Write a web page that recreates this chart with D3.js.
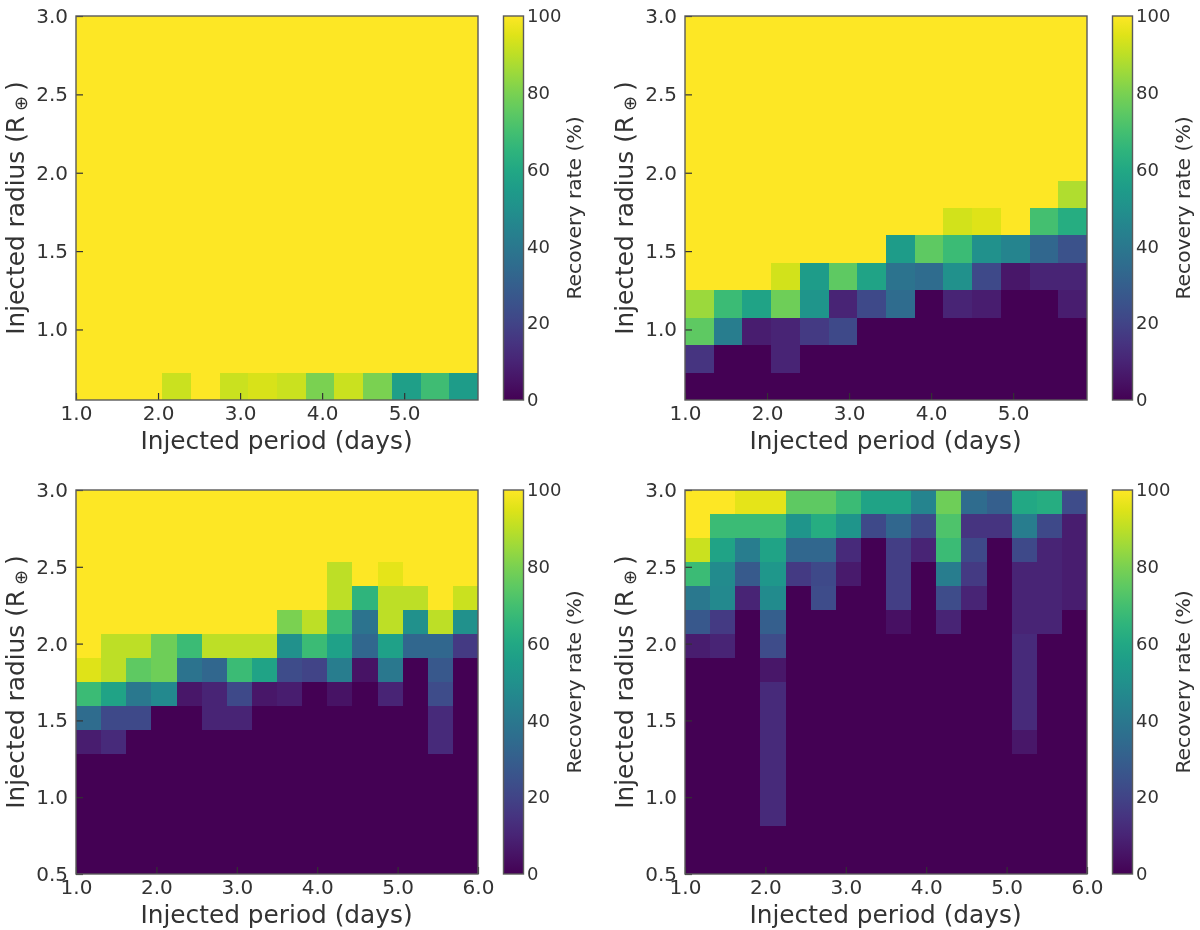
<!DOCTYPE html>
<html>
<head>
<meta charset="utf-8">
<script src="https://cdn.jsdelivr.net/npm/d3@7"></script>
<style>
html,body{margin:0;padding:0;background:#fff}
svg{display:block;font-family:"DejaVu Sans",sans-serif;filter:blur(0.4px)}
</style>
</head>
<body>
<svg id="chart" width="1200" height="930"></svg>
<script>
// Tick labels
const periodTicksShort = [1, 2, 3, 4, 5];
const periodTicksLong = [1, 2, 3, 4, 5, 6];
const radiusTicksShort = [1, 1.5, 2, 2.5, 3];
const radiusTicksLong = [0.5, 1, 1.5, 2, 2.5, 3];
const colorTicks = [0, 20, 40, 60, 80, 100];
const xTitle = "Injected period (days)";
const colorTitle = "Recovery rate (%)";

// Recovery rate (%), first row is the lowest radius
const recoveryTopLeft = [
 [100,100,100,92,100,92,94,92,80,92,80,56,69,55],
 [100,100,100,100,100,100,100,100,100,100,100,100,100,100],
 [100,100,100,100,100,100,100,100,100,100,100,100,100,100],
 [100,100,100,100,100,100,100,100,100,100,100,100,100,100],
 [100,100,100,100,100,100,100,100,100,100,100,100,100,100],
 [100,100,100,100,100,100,100,100,100,100,100,100,100,100],
 [100,100,100,100,100,100,100,100,100,100,100,100,100,100],
 [100,100,100,100,100,100,100,100,100,100,100,100,100,100],
 [100,100,100,100,100,100,100,100,100,100,100,100,100,100],
 [100,100,100,100,100,100,100,100,100,100,100,100,100,100],
 [100,100,100,100,100,100,100,100,100,100,100,100,100,100],
 [100,100,100,100,100,100,100,100,100,100,100,100,100,100],
 [100,100,100,100,100,100,100,100,100,100,100,100,100,100],
 [100,100,100,100,100,100,100,100,100,100,100,100,100,100]
];
const recoveryTopRight = [
 [0,0,0,0,0,0,0,0,0,0,0,0,0,0],
 [15,0,0,10,0,0,0,0,0,0,0,0,0,0],
 [75,42,8,10,17,22,0,0,0,0,0,0,0,0],
 [85,68,58,78,52,10,22,35,0,10,8,0,0,8],
 [100,100,100,93,55,75,58,38,35,50,22,6,10,10],
 [100,100,100,100,100,100,100,55,75,68,50,45,33,25],
 [100,100,100,100,100,100,100,100,100,93,95,100,70,62],
 [100,100,100,100,100,100,100,100,100,100,100,100,100,88],
 [100,100,100,100,100,100,100,100,100,100,100,100,100,100],
 [100,100,100,100,100,100,100,100,100,100,100,100,100,100],
 [100,100,100,100,100,100,100,100,100,100,100,100,100,100],
 [100,100,100,100,100,100,100,100,100,100,100,100,100,100],
 [100,100,100,100,100,100,100,100,100,100,100,100,100,100],
 [100,100,100,100,100,100,100,100,100,100,100,100,100,100]
];
const recoveryBottomLeft = [
 [0,0,0,0,0,0,0,0,0,0,0,0,0,0,0,0],
 [0,0,0,0,0,0,0,0,0,0,0,0,0,0,0,0],
 [0,0,0,0,0,0,0,0,0,0,0,0,0,0,0,0],
 [0,0,0,0,0,0,0,0,0,0,0,0,0,0,0,0],
 [0,0,0,0,0,0,0,0,0,0,0,0,0,0,0,0],
 [8,12,0,0,0,0,0,0,0,0,0,0,0,0,12,0],
 [35,22,22,0,0,10,10,0,0,0,0,0,0,0,12,0],
 [68,58,40,47,6,10,22,6,8,0,5,0,10,0,23,0],
 [95,90,75,78,38,33,68,58,23,20,42,5,40,0,27,0],
 [100,90,90,78,68,90,90,90,50,68,57,33,57,33,33,17],
 [100,100,100,100,100,100,100,100,80,90,68,38,90,50,90,50],
 [100,100,100,100,100,100,100,100,100,100,90,65,90,90,100,92],
 [100,100,100,100,100,100,100,100,100,100,90,100,96,100,100,100],
 [100,100,100,100,100,100,100,100,100,100,100,100,100,100,100,100],
 [100,100,100,100,100,100,100,100,100,100,100,100,100,100,100,100],
 [100,100,100,100,100,100,100,100,100,100,100,100,100,100,100,100]
];
const recoveryBottomRight = [
 [0,0,0,0,0,0,0,0,0,0,0,0,0,0,0,0],
 [0,0,0,0,0,0,0,0,0,0,0,0,0,0,0,0],
 [0,0,0,12,0,0,0,0,0,0,0,0,0,0,0,0],
 [0,0,0,12,0,0,0,0,0,0,0,0,0,0,0,0],
 [0,0,0,12,0,0,0,0,0,0,0,0,0,0,0,0],
 [0,0,0,12,0,0,0,0,0,0,0,0,0,6,0,0],
 [0,0,0,12,0,0,0,0,0,0,0,0,0,12,0,0],
 [0,0,0,12,0,0,0,0,0,0,0,0,0,12,0,0],
 [0,0,0,6,0,0,0,0,0,0,0,0,0,12,0,0],
 [8,10,0,23,0,0,0,0,0,0,0,0,0,12,0,0],
 [27,17,0,30,0,0,0,0,4,0,10,0,0,10,10,0],
 [40,47,10,48,0,23,0,0,18,0,23,10,0,10,10,8],
 [68,48,28,53,17,22,7,0,18,0,42,17,0,10,10,8],
 [92,58,42,58,33,33,12,0,18,10,68,22,0,22,10,8],
 [100,68,68,68,52,62,52,22,33,22,72,15,15,42,22,8],
 [100,100,96,96,75,75,68,58,58,45,78,35,30,60,62,23]
];

const panels = [
 {m: recoveryTopLeft,     xd: [1, 5.9], xt: periodTicksShort, yd: [0.55, 3], yt: radiusTicksShort, l: 76,  t: 16},
 {m: recoveryTopRight,    xd: [1, 5.9], xt: periodTicksShort, yd: [0.55, 3], yt: radiusTicksShort, l: 685, t: 16},
 {m: recoveryBottomLeft,  xd: [1, 6],   xt: periodTicksLong,  yd: [0.5, 3],  yt: radiusTicksLong,  l: 76,  t: 490},
 {m: recoveryBottomRight, xd: [1, 6],   xt: periodTicksLong,  yd: [0.5, 3],  yt: radiusTicksLong,  l: 685, t: 490}
];

const W = 402, H = 384, CB_GAP = 25.5, CB_W = 20;
const ink = "#333", edge = "#5a5a5a";
const svg = d3.select("#chart");
const color = v => d3.interpolateViridis(v / 100);

const defs = svg.append("defs");
const grad = defs.append("linearGradient").attr("id", "viridisBar")
  .attr("x1", 0).attr("x2", 0).attr("y1", 1).attr("y2", 0);
d3.range(0, 101, 5).forEach(v =>
  grad.append("stop").attr("offset", v + "%").attr("stop-color", color(v)));

function styleAxis(g, size) {
  g.select(".domain").remove();
  g.selectAll("line").attr("stroke", "#333").attr("stroke-width", 1.2);
  g.selectAll("text").attr("fill", ink).style("font-size", size + "px")
    .style("font-family", '"DejaVu Sans",sans-serif');
}

panels.forEach(p => {
  const g = svg.append("g").attr("transform", `translate(${p.l},${p.t})`);
  const nRows = p.m.length, nCols = p.m[0].length;
  const xCell = d3.scaleBand().domain(d3.range(nCols)).range([0, W]);
  const yCell = d3.scaleBand().domain(d3.range(nRows)).range([H, 0]);
  const x = d3.scaleLinear().domain(p.xd).range([0, W]);
  const y = d3.scaleLinear().domain(p.yd).range([H, 0]);

  g.append("g").attr("shape-rendering", "crispEdges")
    .selectAll("g").data(p.m).join("g")
    .attr("transform", (_, r) => `translate(0,${yCell(r)})`)
    .selectAll("rect").data(d => d).join("rect")
    .attr("x", (_, c) => xCell(c))
    .attr("width", xCell.bandwidth())
    .attr("height", yCell.bandwidth())
    .attr("fill", color);

  g.append("g").attr("transform", `translate(0,${H})`)
    .call(d3.axisBottom(x).tickValues(p.xt).tickFormat(d3.format(".1f")).tickSize(-7).tickPadding(6))
    .call(a => styleAxis(a, 20));
  g.append("g")
    .call(d3.axisLeft(y).tickValues(p.yt).tickFormat(d3.format(".1f")).tickSize(-7).tickPadding(8))
    .call(a => styleAxis(a, 20));

  g.append("rect").attr("width", W).attr("height", H)
    .attr("fill", "none").attr("stroke", edge).attr("stroke-width", 1.4);

  g.append("text").attr("x", W / 2 - 0.5).attr("y", H + 49).attr("text-anchor", "middle")
    .attr("fill", ink).style("font-size", "24.8px").text(xTitle);

  const yTitle = g.append("text")
    .attr("transform", `translate(-52,${H / 2}) rotate(-90)`)
    .attr("text-anchor", "middle").attr("fill", ink).style("font-size", "24.8px");
  yTitle.append("tspan").text("Injected radius (R");
  yTitle.append("tspan").attr("dx", 5).attr("dy", 3).style("font-size", "18px").text("\u2295");
  yTitle.append("tspan").attr("dx", 5).attr("dy", -3).text(")");

  // colour bar
  const cb = g.append("g").attr("transform", `translate(${W + CB_GAP},0)`);
  const c = d3.scaleLinear().domain([0, 100]).range([H, 0]);
  cb.append("rect").attr("width", CB_W).attr("height", H)
    .attr("fill", "url(#viridisBar)").attr("stroke", edge).attr("stroke-width", 1.4);
  cb.append("g").attr("transform", `translate(${CB_W},0)`)
    .call(d3.axisRight(c).tickValues(colorTicks).tickSize(0).tickPadding(3.5))
    .call(a => styleAxis(a, 18));
  cb.append("text").attr("transform", `translate(${CB_W + 57},${H / 2}) rotate(-90)`)
    .attr("text-anchor", "middle").attr("fill", ink).style("font-size", "20.3px").text(colorTitle);
});
</script>
</body>
</html>
